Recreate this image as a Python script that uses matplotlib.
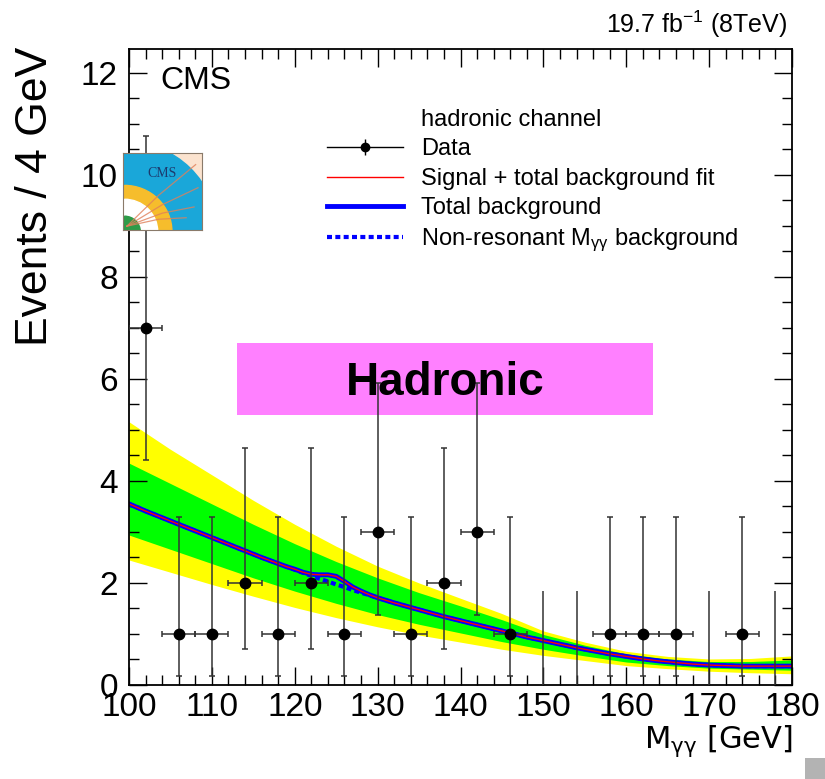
import numpy as np
import matplotlib.pyplot as plt
from matplotlib.patches import Rectangle, Wedge
from matplotlib.lines import Line2D
from matplotlib.legend_handler import HandlerTuple
from matplotlib.ticker import MultipleLocator

plt.rcParams['font.family'] = ['Liberation Sans', 'DejaVu Sans']
plt.rcParams['mathtext.default'] = 'regular'

# Data: diphoton mass, 4 GeV bins
bin_centers = [102, 106, 110, 114, 118, 122, 126, 130, 134, 138,
               142, 146, 150, 154, 158, 162, 166, 170, 174, 178]
counts = [7, 1, 1, 2, 1, 2, 1, 3, 1, 2, 3, 1, 0, 0, 1, 1, 1, 0, 1, 0]
# Poisson (Garwood) intervals
err_lo = [2.58, 0.83, 0.83, 1.29, 0.83, 1.29, 0.83, 1.63, 0.83, 1.29,
          1.63, 0.83, 0.0, 0.0, 0.83, 0.83, 0.83, 0.0, 0.83, 0.0]
err_hi = [3.77, 2.30, 2.30, 2.64, 2.30, 2.64, 2.30, 2.92, 2.30, 2.64,
          2.92, 2.30, 1.84, 1.84, 2.30, 2.30, 2.30, 1.84, 2.30, 1.84]
bin_width = 4.0

# Fit curves
curve_mass = [100, 102, 104, 106, 108, 110, 112, 114, 116, 118,
              119, 120, 121, 122, 123, 124, 125, 126, 127, 128, 129, 130,
              132, 134, 136, 138, 140, 142, 144, 146, 148, 150, 152, 154,
              156, 158, 160, 162, 164, 166, 168, 170, 172, 174, 176, 178, 180]
nonres_bkg = [3.55, 3.41, 3.28, 3.15, 3.02, 2.89, 2.76, 2.63, 2.50, 2.38,
              2.32, 2.26, 2.20, 2.14, 2.08, 2.03, 1.97, 1.92, 1.86, 1.81, 1.76, 1.71,
              1.61, 1.52, 1.43, 1.34, 1.26, 1.18, 1.10, 1.02, 0.94, 0.87, 0.80, 0.73,
              0.67, 0.61, 0.56, 0.51, 0.47, 0.44, 0.41, 0.39, 0.38, 0.37, 0.37, 0.37, 0.37]
total_bkg = [3.55, 3.41, 3.28, 3.15, 3.02, 2.89, 2.76, 2.63, 2.50, 2.38,
             2.32, 2.27, 2.21, 2.17, 2.16, 2.16, 2.13, 2.03, 1.92, 1.84, 1.77, 1.71,
             1.61, 1.52, 1.43, 1.34, 1.26, 1.18, 1.10, 1.02, 0.94, 0.87, 0.80, 0.73,
             0.67, 0.61, 0.56, 0.51, 0.47, 0.44, 0.41, 0.39, 0.38, 0.37, 0.37, 0.37, 0.37]
# fitted signal is negligible here, so the s+b curve sits on the total background
sig_plus_bkg = total_bkg

# 1 and 2 sigma bands on the background fit
band_mass = [100, 105, 110, 115, 120, 125, 130, 135, 140, 145, 150, 155, 160, 165, 170, 175, 180]
band2_hi = [5.16, 4.62, 4.12, 3.62, 3.15, 2.72, 2.33, 2.00, 1.70, 1.40, 1.06, 0.84, 0.66, 0.56, 0.51, 0.52, 0.57]
band1_hi = [4.35, 3.95, 3.55, 3.15, 2.77, 2.42, 2.10, 1.81, 1.55, 1.28, 0.99, 0.78, 0.61, 0.51, 0.46, 0.46, 0.49]
band1_lo = [2.94, 2.66, 2.38, 2.10, 1.84, 1.60, 1.38, 1.19, 1.02, 0.85, 0.70, 0.57, 0.45, 0.38, 0.33, 0.31, 0.29]
band2_lo = [2.45, 2.21, 1.97, 1.74, 1.52, 1.32, 1.14, 0.98, 0.84, 0.70, 0.58, 0.48, 0.38, 0.32, 0.27, 0.24, 0.22]

fig = plt.figure(figsize=(8.25, 7.79), dpi=100)
ax = fig.add_axes([0.1564, 0.1207, 0.8036, 0.8164])

ax.fill_between(band_mass, band2_lo, band2_hi, color='#ffff00', lw=0, zorder=1)
ax.fill_between(band_mass, band1_lo, band1_hi, color='#00ff00', lw=0, zorder=1.1)

ax.plot(curve_mass, nonres_bkg, color='#0000ff', lw=3, ls=(0, (1.2, 0.8)), zorder=2)
ax.plot(curve_mass, total_bkg, color='#0000ff', lw=3.5, zorder=2.1)
ax.plot(curve_mass, sig_plus_bkg, color='#ff0000', lw=1.0, zorder=2.2)

# "Hadronic" tag
ax.add_patch(Rectangle((113.0, 5.29), 50.2, 1.42, color='#ff80ff', lw=0, zorder=0.5))
ax.text(138.1, 5.93, 'Hadronic', fontsize=33, fontweight='bold', ha='center', va='center', zorder=10)

# data points
x = np.array(bin_centers, dtype=float)
n = np.array(counts, dtype=float)
lo = np.array(err_lo)
hi = np.array(err_hi)
filled = n > 0
ax.errorbar(x[filled], n[filled], xerr=bin_width / 2, yerr=[lo[filled], hi[filled]],
            fmt='o', color='black', ms=7.5, ecolor='#333333', elinewidth=1.1,
            capsize=2.5, capthick=1.1, zorder=4)
ax.errorbar(x[~filled], n[~filled], yerr=[lo[~filled], hi[~filled]], fmt='none',
            ecolor='#333333', elinewidth=1.1, zorder=4)

ax.set_xlim(100, 180)
ax.set_ylim(0, 12.47)
ax.xaxis.set_major_locator(MultipleLocator(10))
ax.xaxis.set_minor_locator(MultipleLocator(2))
ax.yaxis.set_major_locator(MultipleLocator(2))
ax.yaxis.set_minor_locator(MultipleLocator(0.5))
ax.tick_params(which='both', direction='in', top=True, right=True, width=1.0, labelsize=24)
ax.tick_params(which='major', length=13)
ax.tick_params(which='minor', length=7)
ax.tick_params(axis='x', pad=5)
ax.tick_params(axis='y', pad=8)
for s in ax.spines.values():
    s.set_linewidth(1.3)

ax.text(0.047, 0.973, 'CMS', transform=ax.transAxes, fontsize=23, ha='left', va='top')

# legend
header = Line2D([], [], color='none')
data_handle = (Line2D([], [], color='black', lw=1.0),
               Line2D([], [], color='black', marker='|', ms=12, mew=1.0, ls='none'),
               Line2D([], [], color='black', marker='o', ms=6, ls='none'))
fit_line = Line2D([], [], color='#ff0000', lw=1.0)
tot_line = Line2D([], [], color='#0000ff', lw=3.5)
nonres_line = Line2D([], [], color='#0000ff', lw=3, ls=(0, (1.2, 0.8)))
ax.legend([header, data_handle, fit_line, tot_line, nonres_line],
          ['hadronic channel', 'Data', 'Signal + total background fit',
           'Total background', r'Non-resonant M$_{γγ}$ background'],
          handler_map={tuple: HandlerTuple(ndivide=1)},
          loc='upper left', bbox_to_anchor=(0.299, 0.906), frameon=False, fontsize=17,
          handlelength=3.2, handletextpad=0.76, labelspacing=0.32,
          borderpad=0, borderaxespad=0)

fig.text(0.954, 0.958, r'19.7 fb$^{-1}$ (8TeV)', fontsize=18, ha='right', va='baseline')
fig.text(0.043, 0.748, 'Events / 4 GeV', rotation=90, fontsize=32, ha='center', va='center')
fig.text(0.961, 0.040, r'M$_{γγ}$ [GeV]', fontsize=22, family='DejaVu Sans',
         ha='right', va='baseline')

# CMS logo
logo = fig.add_axes([0.149, 0.7047, 0.0958, 0.0988])
logo.set_xlim(0, 1)
logo.set_ylim(0, 1)
logo.set_facecolor('#fbe3cf')
logo.set_xticks([])
logo.set_yticks([])
for s in logo.spines.values():
    s.set_color('#8a7a6a')
    s.set_linewidth(0.8)
logo.add_patch(Wedge((0.02, -0.02), 1.17, 0, 90, width=0.57, color='#1aa7d9'))
logo.add_patch(Wedge((0.02, -0.02), 0.60, 0, 90, width=0.18, color='#f6bd2c'))
logo.add_patch(Wedge((0.02, -0.02), 0.42, 0, 90, width=0.22, color='white'))
logo.add_patch(Wedge((0.02, -0.02), 0.20, 0, 90, color='#2e9b48'))
for tx, ty in [([0.05, 0.45, 0.92], [0.05, 0.45, 0.85]),
               ([0.05, 0.5, 0.95], [0.05, 0.33, 0.55]),
               ([0.05, 0.5, 0.9], [0.05, 0.22, 0.3]),
               ([0.05, 0.45, 0.8], [0.05, 0.14, 0.16])]:
    logo.plot(tx, ty, color='#e0805a', lw=0.9, alpha=0.8)
logo.text(0.5, 0.74, 'CMS', family='Liberation Serif', fontsize=10, color='#1d3b6e',
          ha='center', va='center')

fig.patches.append(Rectangle((805 / 825, 0), 20 / 825, 21 / 779, transform=fig.transFigure,
                             color='#b3b3b3', lw=0))

fig.savefig('out.png', dpi=100)
